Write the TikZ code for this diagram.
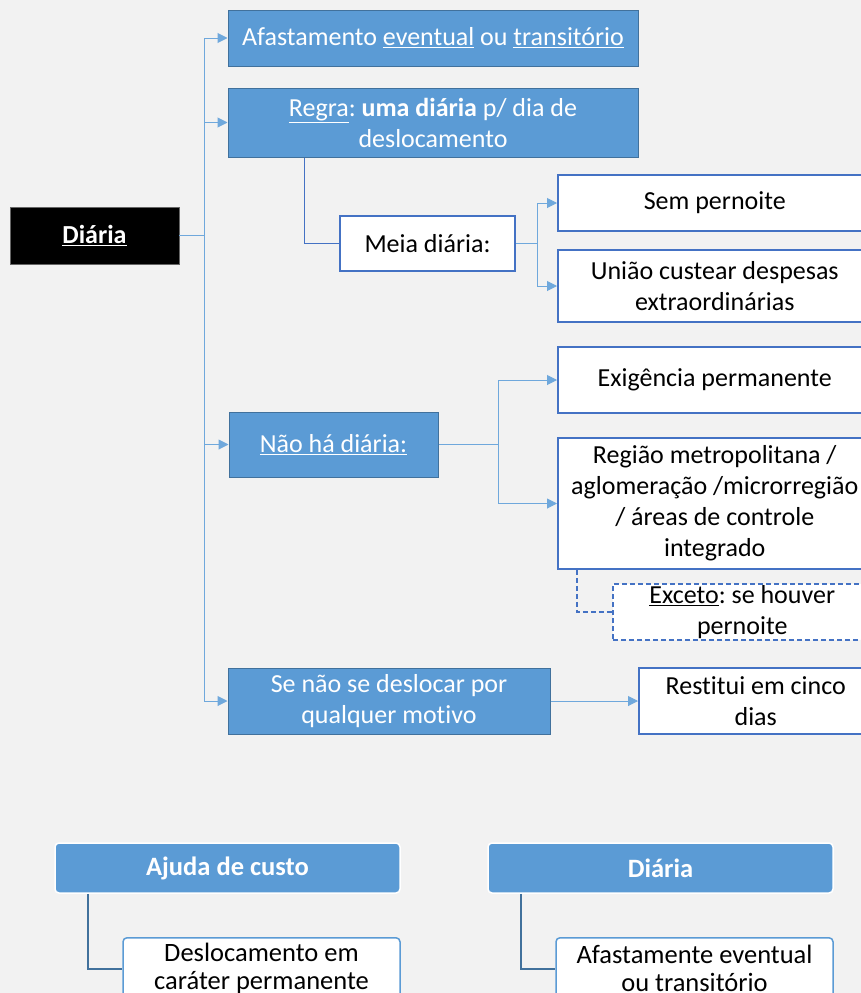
\documentclass[tikz,border=0pt]{standalone}
\usepackage{fontspec}
\setmainfont{Carlito}[Ligatures=NoCommon]
\usetikzlibrary{arrows.meta}
\definecolor{bg}{HTML}{F2F2F2}
\definecolor{acc}{HTML}{5B9BD5}
\definecolor{accd}{HTML}{41719C}
\definecolor{wb}{HTML}{4472C4}
\definecolor{lconn}{HTML}{6FA8DC}
\frenchspacing
\begin{document}
\begin{tikzpicture}[x=1pt,y=-1pt,
  txt/.style={font=\fontsize{26}{31}\selectfont, align=center, inner sep=0pt},
  bluebox/.style={txt, draw=accd, fill=acc, line width=1pt, text=white},
  whitebox/.style={txt, draw=wb, fill=white, line width=1.5pt, text=black},
  dashbox/.style={txt, draw=wb, fill=white, line width=1.5pt, dashed, dash pattern=on 5pt off 3pt, text=black},
  conn/.style={draw=lconn, line width=1pt},
  arr/.style={conn, -{Triangle[length=10pt,width=10pt]}},
  dconn/.style={draw=wb, line width=1.5pt},
  rbox/.style={font=\fontsize{26.5}{28}\selectfont, align=center, inner sep=0pt, rounded corners=4pt, line width=1.5pt},
  bconn/.style={draw=accd, line width=2pt}
]
\fill[bg] (0,0) rectangle (861,993);
\clip (0,0) rectangle (861,993);
\useasboundingbox (0,0) rectangle (861,993);

\node[txt, fill=black, draw=black!60, text=white, minimum width=169, minimum height=57] (diaria) at (94.5,235.5) {\textbf{\underline{Diária}}};

\node[bluebox, minimum width=410, minimum height=56] (b1) at (433,38) {Afastamento \underline{eventual} ou \underline{transitório}};
\node[bluebox, minimum width=410, minimum height=69] (b2) at (433,122.5) {\underline{Regra}: \textbf{uma diária} p/ dia de\\deslocamento};
\node[whitebox, minimum width=175, minimum height=55] (meia) at (427.5,243.5) {Meia diária:};
\node[whitebox, anchor=west, minimum width=314, minimum height=56] (sem) at (557,203) {Sem pernoite};
\node[whitebox, anchor=west, minimum width=314, minimum height=72] (uniao) at (557,286) {União custear despesas\\extraordinárias};
\node[bluebox, minimum width=209, minimum height=65] (nao) at (333.5,444.5) {\underline{Não há diária:}};
\node[whitebox, anchor=west, minimum width=314, minimum height=66] (exig) at (557,380) {Exigência permanente};
\node[whitebox, anchor=west, minimum width=314, minimum height=131] (reg) at (557,503.5) {Região metropolitana /\\aglomeração /microrregião\\/ áreas de controle\\integrado};
\node[dashbox, anchor=west, minimum width=259, minimum height=56] (exc) at (612,612) {\underline{Exceto}: se houver\\pernoite};
\node[bluebox, minimum width=322, minimum height=66] (senao) at (389,701) {Se não se deslocar por\\qualquer motivo};
\node[whitebox, anchor=west, minimum width=234, minimum height=66] (rest) at (638,701) {Restitui em cinco\\dias};

\coordinate (t) at (204,235.5);
\draw[conn] (diaria.east) -- (t);
\draw[arr] (t) |- (b1.west);
\draw[arr] (t) |- (b2.west);
\draw[arr] (t) |- (nao.west);
\draw[arr] (t) |- (senao.west);
\draw[dconn] (b2.south west) ++(77,0) |- (meia.west);
\coordinate (m) at (537,243.5);
\draw[conn] (meia.east) -- (m);
\draw[arr] (m) |- (sem.west);
\draw[arr] (m) |- (uniao.west);
\coordinate (n) at (498,444.5);
\draw[conn] (nao.east) -- (n);
\draw[arr] (n) |- (exig.west);
\draw[arr] (n) |- (reg.west);
\draw[dconn, dashed, dash pattern=on 5pt off 3pt] (reg.south west) ++(20,0) |- (exc.west);
\draw[arr] (senao.east) -- (rest.west);

% bottom
\node[rbox, draw=white, fill=acc, text=white, minimum width=345, minimum height=50] (aj) at (227.5,868) {\textbf{Ajuda de custo}};
\node[rbox, draw=white, fill=acc, text=white, minimum width=345, minimum height=50] (d2) at (660.5,868) {\textbf{Diária}};
\node[rbox, draw=acc, fill=white, text=black, anchor=north, minimum width=277, minimum height=62] (desl) at (261.5,937) {Deslocamento em\\caráter permanente};
\node[rbox, draw=acc, fill=white, text=black, anchor=north, minimum width=277, minimum height=62] (afa) at (694.5,937) {Afastamente eventual\\ou transitório};
\draw[bconn] (aj.south west) ++(34,0) |- (desl.west);
\draw[bconn] (d2.south west) ++(34,0) |- (afa.west);
\end{tikzpicture}
\end{document}
